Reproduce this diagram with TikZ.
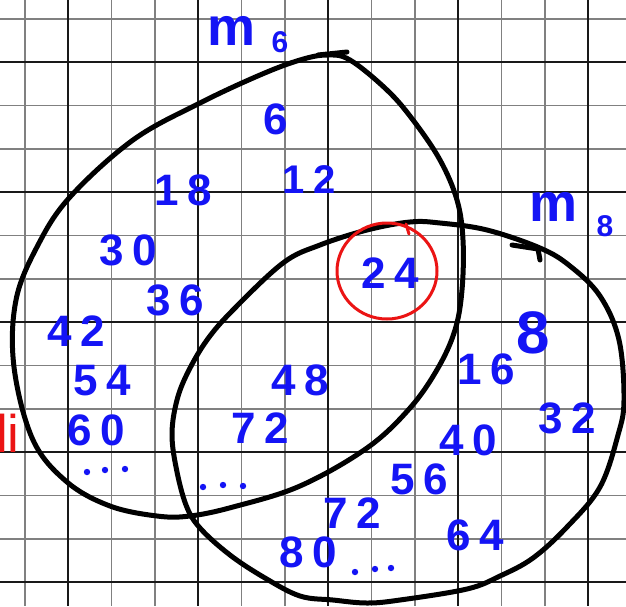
\documentclass[tikz,border=0pt]{standalone}
\usepackage{fontspec}
\setmainfont{Liberation Sans}
\definecolor{numblue}{RGB}{20,20,245}
\definecolor{penred}{RGB}{235,20,20}
\newcommand\gp{\kern 9pt}
\begin{document}
\begin{tikzpicture}[x=1pt,y=-1pt,
  gridminor/.style={draw=black!50, line width=1.2pt},
  gridmajor/.style={draw=black!90, line width=1.3pt},
  hand/.style={draw=black, line width=5pt, line cap=round, line join=round},
  num/.style={text=numblue, font=\bfseries\fontsize{44}{44}\selectfont, inner sep=0pt, anchor=center},
  bignum/.style={num, font=\bfseries\fontsize{60}{60}\selectfont},
  smallnum/.style={num, font=\bfseries\fontsize{40}{40}\selectfont},
  mlab/.style={text=numblue, font=\bfseries\fontsize{54}{54}\selectfont, inner sep=0pt, anchor=center},
  sublab/.style={text=numblue, font=\bfseries\fontsize{30}{30}\selectfont, inner sep=0pt, anchor=center},
  dotmark/.style={fill=numblue, draw=none}]
\useasboundingbox (0,0) rectangle (626,606);
\clip (0,0) rectangle (626,606);
\fill[white] (0,0) rectangle (626,606);
% grid
\foreach \k in {-1,...,14} {
  \draw[gridminor] ({25+43.33*\k},0) -- ++(0,606);
  \draw[gridminor] (0,{19+43.33*\k}) -- ++(626,0);
}
\foreach \j in {0,...,4} {
  \draw[gridmajor] ({68+130*\j},0) -- ++(0,606);
  \draw[gridmajor] (0,{62+130*\j}) -- ++(626,0);
}
% set M6
\draw[hand] plot[smooth cycle, tension=0.6] coordinates {
  (327,55) (350,60) (387,90) (413,120) (440,160) (457,200) (463,240)
  (462,290) (455,330) (438,368) (410,408) (367,448) (300,486) (233,507)
  (190,516) (157,516) (110,506) (67,482) (33,440) (14,367) (16,300)
  (38,245) (70,197) (133,140) (200,103) (260,75) (300,60)};
\draw[hand] (318,55) -- (347,52);
% set M8
\draw[hand] plot[smooth cycle, tension=0.6] coordinates {
  (320,245) (367,230) (410,222) (440,223) (487,230) (540,248) (570,266)
  (600,296) (619,340) (624,400) (618,435) (600,487) (567,527) (533,558)
  (500,576) (467,589) (400,600) (367,603) (333,600) (300,596) (265,578)
  (230,555) (200,528) (186,505) (176,467) (172,433) (177,400) (188,372)
  (207,340) (233,310) (283,263)};
\draw[hand] (512,245) -- (538,249) -- (540,260);
% red circle round 24
\draw[penred, line width=3pt] (387,271) ellipse [x radius=50, y radius=48];
\draw[penred, line width=3pt, line cap=round] (409,234) -- (406,224);
% labels of the sets
\node[mlab] (m6) at (232,31) {m};
\node[sublab] (m6i) at (280,42) {6};
\node[mlab] (m8) at (553,207) {m};
\node[sublab] (m8i) at (605,226) {8};
% only M6
\node[num] (n6) at (276,119) {6};
\node[num] (n18) at (183,190) {1\gp 8};
\node[smallnum] (n12) at (309,180) {1\gp 2};
\node[num] (n30) at (128,250) {3\gp 0};
\node[num] (n36) at (175,300) {3\gp 6};
\node[num] (n42) at (76,331) {4\gp 2};
\node[num] (n54) at (102,381) {5\gp 4};
\node[num] (n60) at (96,430) {6\gp 0};
\foreach \x/\y in {87/472,105/470,125/469} \fill[dotmark] (\x,\y) circle (3.2);
% intersection
\node[num] (n24) at (390,273) {2\gp 4};
\node[num] (n48) at (300,380) {4\gp 8};
\node[num] (n72a) at (260,428) {7\gp 2};
\foreach \x/\y in {203/487,223/485,243/486} \fill[dotmark] (\x,\y) circle (3.2);
% only M8
\node[bignum] (n8) at (533,333) {8};
\node[num] (n16) at (486,369) {1\gp 6};
\node[num] (n32) at (567,418) {3\gp 2};
\node[num] (n40) at (468,440) {4\gp 0};
\node[num] (n56) at (419,479) {5\gp 6};
\node[num] (n72b) at (352,513) {7\gp 2};
\node[num] (n64) at (475,535) {6\gp 4};
\node[num] (n80) at (308,552) {8\gp 0};
\foreach \x/\y in {355/572,375/569,391/568} \fill[dotmark] (\x,\y) circle (3.2);
% red text at the left edge, cut off as in the reference
\node[text=penred, font=\fontsize{53}{53}\selectfont, inner sep=0pt, anchor=base west] (li) at (-4,452) {li};
\end{tikzpicture}
\end{document}
